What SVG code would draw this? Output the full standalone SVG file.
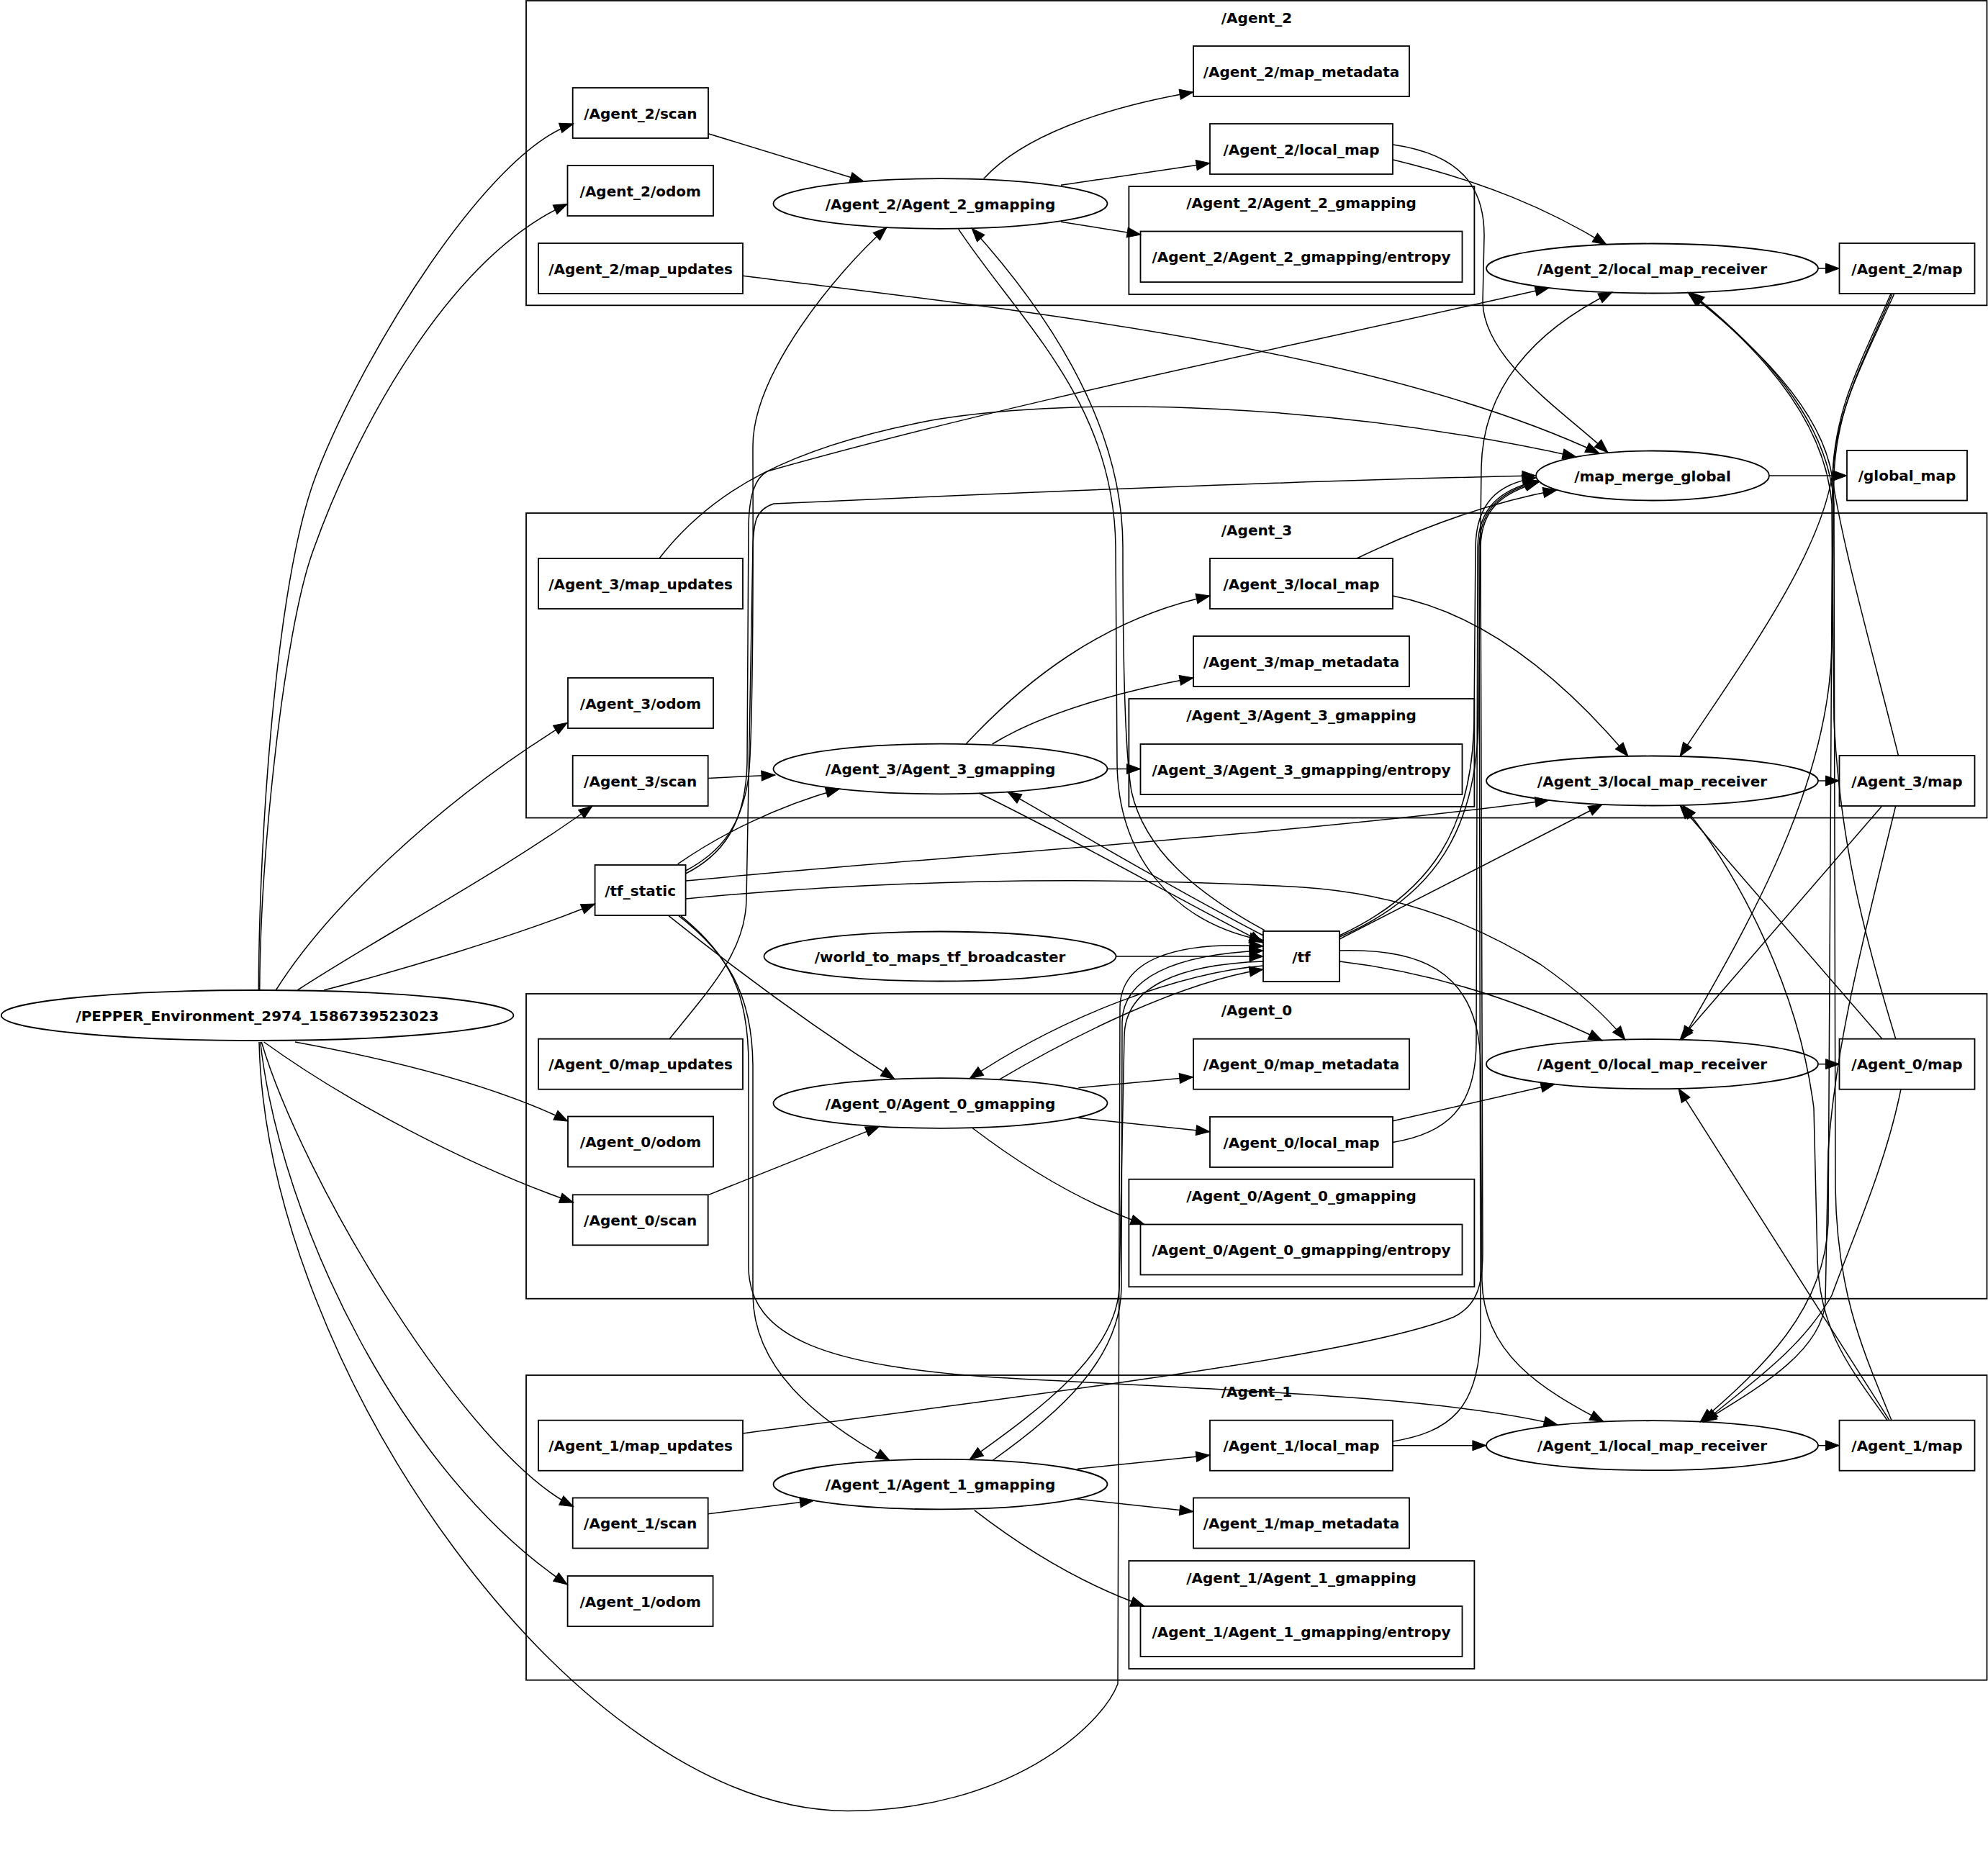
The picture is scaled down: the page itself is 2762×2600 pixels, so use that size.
<svg xmlns="http://www.w3.org/2000/svg" width="2762" height="2600" viewBox="0 0 2762 2600">
<defs>
<style>
.c{fill:none;stroke:#000;stroke-width:1.8}
.n{fill:none;stroke:#000;stroke-width:1.8}
.t{font-family:"DejaVu Sans",sans-serif;font-weight:bold;font-size:20px;text-anchor:middle;fill:#000}
#edges path{fill:none;stroke:#000;stroke-width:1.5;marker-end:url(#a)}
</style>
<marker id="a" viewBox="0 0 20 14" markerWidth="20" markerHeight="14" refX="19" refY="7" orient="auto" markerUnits="userSpaceOnUse" overflow="visible">
<path d="M0,0 L19,7 L0,14 z" fill="#000" stroke="#000" stroke-width="1"/>
</marker>
</defs>
<rect width="2762" height="2600" fill="#fff"/>

<g id="clusters">
<g id="cluster_agent2"><rect class="c" x="731" y="1" width="2029.5" height="423.3"/><text class="t" x="1746" y="31.5">/Agent_2</text></g>
<g id="cluster_agent2_gm"><rect class="c" x="1568.4" y="259" width="480" height="150"/><text class="t" x="1808" y="288.5">/Agent_2/Agent_2_gmapping</text></g>
<g id="cluster_agent3"><rect class="c" x="731" y="713" width="2029.5" height="423.5"/><text class="t" x="1746" y="743.5">/Agent_3</text></g>
<g id="cluster_agent3_gm"><rect class="c" x="1568.4" y="971" width="480" height="150"/><text class="t" x="1808" y="1000.5">/Agent_3/Agent_3_gmapping</text></g>
<g id="cluster_agent0"><rect class="c" x="731" y="1381" width="2029.5" height="423.7"/><text class="t" x="1746" y="1411">/Agent_0</text></g>
<g id="cluster_agent0_gm"><rect class="c" x="1568.4" y="1638.7" width="480" height="149.5"/><text class="t" x="1808" y="1669">/Agent_0/Agent_0_gmapping</text></g>
<g id="cluster_agent1"><rect class="c" x="731" y="1911" width="2029.5" height="423.7"/><text class="t" x="1746" y="1940.5">/Agent_1</text></g>
<g id="cluster_agent1_gm"><rect class="c" x="1568.4" y="2169" width="480" height="150"/><text class="t" x="1808" y="2199.5">/Agent_1/Agent_1_gmapping</text></g>
</g>

<g id="edges">
<path d="M359.3,1376 C360,1150 385,800 440,658 C506,488 678,210 796.7,172"/>
<path d="M360.7,1376 C362,1180 395,880 433.3,770 C491,605 620,360 788.3,283.4"/>
<path d="M383.3,1376 C450,1270 600,1120 788.3,1004.3"/>
<path d="M413.3,1376 C530,1300 700,1210 823,1120"/>
<path d="M450,1376 C550,1350 720,1300 826.6,1256"/>
<path d="M410,1448 C530,1470 680,1505 789,1558"/>
<path d="M366.7,1448 C480,1530 650,1620 796.7,1671"/>
<path d="M363.3,1448 C420,1640 646.7,2018.6 796.7,2093.6"/>
<path d="M361.7,1448 C390,1700 560,2050 788.3,2202"/>
<path d="M360,1448 C370,1900 800,2516 1178,2516.5 C1400,2516 1530,2400 1553,2340 L1556,1400 C1557,1335 1630,1307 1755,1315"/>

<path d="M984,185.7 L1200,252"/>
<path d="M1366.7,248.3 C1420,190 1530,150 1658,128"/>
<path d="M1474,257.3 L1681,226.7"/>
<path d="M1474,308.3 L1585,326"/>
<path d="M1331.6,318.3 C1420,450 1548,560 1550,760 L1552,1060 C1553,1180 1620,1280 1755,1307"/>
<path d="M1756.7,1292.7 C1660,1240 1590,1180 1572,1100 C1562,1040 1560,900 1560,760 C1560,600 1470,450 1350,317"/>
<path d="M952.6,1210 C1000,1185 1030,1150 1040,1080 C1048,1000 1046,700 1046,620 C1046,520 1160,380 1232,316"/>
<path d="M1935.5,222 C2063,253 2150,290 2232,340"/>
<path d="M1935.5,201 C2030,215 2063,260 2062,330 L2060,420 C2062,500 2170,570 2234,629"/>
<path d="M1032,383.3 C1400,430 1900,480 2222,630"/>
<path d="M2526,373 L2555.5,373"/>
<path d="M1861,1302 C1995,1245 2052,1150 2054,1000 L2058,650 C2060,540 2130,460 2240,406"/>
<path d="M952.6,1214 C1000,1190 1036,1150 1038,1060 L1040,730 C1041,690 1048,665 1066,655 C1400,560 1800,480 2152,400"/>

<path d="M983.5,1081.4 L1077,1077"/>
<path d="M1378.6,1034 C1450,990 1560,960 1658,942"/>
<path d="M1342,1034 C1420,950 1530,860 1681,828"/>
<path d="M1538.5,1068.5 L1584.5,1068.5"/>
<path d="M1360.4,1102.3 C1480,1160 1620,1240 1755,1310"/>
<path d="M1755,1300 C1640,1240 1520,1170 1400,1100.5"/>
<path d="M941.7,1200.7 C1000,1160 1080,1120 1166.5,1096.2"/>
<path d="M1935,828 C2050,850 2160,930 2262,1051"/>
<path d="M1885,776 C1960,740 2060,700 2163,681"/>
<path d="M916,776 C990,680 1100,620 1300,583 C1500,550 1850,560 2190,634.9"/>
<path d="M2526,1085 L2555.5,1085"/>
<path d="M1861,1305 L2226,1118"/>
<path d="M953,1224 C1300,1190 1800,1160 2152,1112"/>

<path d="M983.8,1660.6 L1221.7,1565.4"/>
<path d="M1498.3,1511.7 L1657.7,1496.7"/>
<path d="M1496.7,1553.3 L1680.8,1572.7"/>
<path d="M1351,1567.5 C1420,1620 1500,1670 1590,1701.5"/>
<path d="M1388,1500.4 C1490,1440 1640,1365 1755,1347"/>
<path d="M1755,1342 C1640,1352 1480,1410 1347,1499"/>
<path d="M929,1272.7 C1050,1370 1150,1440 1243,1499.5"/>
<path d="M1935,1557.8 L2160,1506.6"/>
<path d="M1935,1587.5 C2010,1575 2050,1540 2051,1450 L2053,760 C2054,705 2085,680 2137,668"/>
<path d="M930,1443.7 C990,1370 1036,1320 1037,1250 L1046,760 C1047,725 1050,708 1075,700 C1400,685 1800,668 2134,661"/>
<path d="M2526,1478.7 L2555.5,1478.7"/>
<path d="M1861,1336 C1980,1350 2100,1385 2226,1446"/>
<path d="M953,1249 C1200,1225 1500,1215 1810,1233 C1950,1242 2060,1290 2140,1340 C2190,1375 2230,1410 2258,1445"/>

<path d="M983.8,2103.8 L1130.5,2085.3"/>
<path d="M1494,2082.8 L1657.9,2100.6"/>
<path d="M1497,2041.3 L1680.8,2022.2"/>
<path d="M1353.7,2098.7 C1420,2150 1500,2200 1590,2232"/>
<path d="M1379,2029.5 C1470,1965 1556,1890 1558,1790 L1559,1420 C1560,1360 1630,1326 1755,1321"/>
<path d="M1755,1336 C1640,1340 1563,1370 1562,1440 L1555,1790 C1550,1880 1450,1955 1347,2028.3"/>
<path d="M943,1272.7 C1010,1325 1045,1380 1046,1480 L1046,1800 C1047,1900 1130,1970 1236,2029.4"/>
<path d="M1935,2008.7 L2064.9,2008.7"/>
<path d="M1935,2003 C2012,1990 2056,1960 2057,1850 L2055,760 C2056,705 2088,682 2137,669"/>
<path d="M1031.6,1992 C1500,1930 1900,1880 2020,1830 C2050,1815 2060,1790 2060,1740 L2057,760 C2058,705 2090,684 2138,670"/>
<path d="M2526,2008.7 L2555.5,2008.7"/>
<path d="M1861,1321 C1960,1318 2056,1340 2057,1480 L2059,1780 C2061,1880 2140,1930 2228,1975.7"/>
<path d="M946,1272.7 C1015,1330 1040,1380 1040,1480 L1040,1760 C1040,1860 1150,1900 1400,1915 C1700,1932 2000,1940 2164,1980"/>

<path d="M1550.5,1329 L1755,1329"/>
<path d="M1861,1300 C1990,1240 2046,1150 2048,1000 L2050,760 C2051,700 2080,672 2134,664"/>
<path d="M2458,661 L2566,661"/>

<path d="M2631.7,408.3 C2600,480 2555,560 2548,640 C2540,760 2420,920 2334,1051"/>
<path d="M2629,408.3 C2595,490 2552,560 2548,660 L2545,900 C2540,1100 2420,1300 2337,1445"/>
<path d="M2627,408.3 C2592,490 2550,560 2546,660 L2540,1700 C2535,1820 2450,1900 2362,1976"/>
<path d="M2637.5,1050 C2600,900 2560,760 2545,660 C2530,570 2440,480 2345,406.5"/>
<path d="M2615,1119.8 L2334,1445"/>
<path d="M2633.8,1119.8 C2590,1300 2550,1450 2540,1600 L2536,1810 C2530,1880 2440,1930 2366,1976"/>
<path d="M2615,1443.7 L2334,1119"/>
<path d="M2633.8,1443.7 C2590,1300 2556,1170 2548,1000 L2545,700 C2535,580 2440,480 2347,406.5"/>
<path d="M2641,1513.3 C2620,1620 2570,1730 2545,1800 C2500,1880 2420,1930 2368,1976"/>
<path d="M2625,1973.7 L2332,1512.7"/>
<path d="M2622,1973.7 C2570,1900 2528,1850 2525,1750 L2520,1540 C2500,1380 2420,1220 2338,1119"/>
<path d="M2628,1973.7 C2590,1880 2552,1800 2550,1650 L2548,700 C2540,580 2440,480 2349,406.5"/>
</g>

<g id="nodes">
<g id="n_pepper"><ellipse class="n" cx="357.6" cy="1411" rx="355.8" ry="35"/><text class="t" x="357.6" y="1418.5">/PEPPER_Environment_2974_1586739523023</text></g>

<g id="n_a2_scan"><rect class="n" x="795.7" y="122" width="188.3" height="70"/><text class="t" x="889.85" y="164.5">/Agent_2/scan</text></g>
<g id="n_a2_odom"><rect class="n" x="788.5" y="230" width="202.5" height="70"/><text class="t" x="889.75" y="272.5">/Agent_2/odom</text></g>
<g id="n_a2_map_updates"><rect class="n" x="748" y="338" width="284" height="70"/><text class="t" x="890" y="380.5">/Agent_2/map_updates</text></g>
<g id="n_a2_gmapping"><ellipse class="n" cx="1306.5" cy="283" rx="232" ry="34.8"/><text class="t" x="1306.5" y="290.5">/Agent_2/Agent_2_gmapping</text></g>
<g id="n_a2_map_metadata"><rect class="n" x="1658" y="64" width="300" height="70"/><text class="t" x="1808" y="106.5">/Agent_2/map_metadata</text></g>
<g id="n_a2_local_map"><rect class="n" x="1681" y="172" width="254" height="70"/><text class="t" x="1808" y="214.5">/Agent_2/local_map</text></g>
<g id="n_a2_entropy"><rect class="n" x="1584.5" y="321.5" width="447" height="70.5"/><text class="t" x="1808" y="364.3">/Agent_2/Agent_2_gmapping/entropy</text></g>
<g id="n_a2_receiver"><ellipse class="n" cx="2295.5" cy="373" rx="230.5" ry="34.5"/><text class="t" x="2295.5" y="380.5">/Agent_2/local_map_receiver</text></g>
<g id="n_a2_map"><rect class="n" x="2555.5" y="338" width="188" height="70"/><text class="t" x="2649.5" y="380.5">/Agent_2/map</text></g>

<g id="n_merge"><ellipse class="n" cx="2296" cy="661" rx="162" ry="34.5"/><text class="t" x="2296" y="668.5">/map_merge_global</text></g>
<g id="n_global_map"><rect class="n" x="2566" y="626" width="167" height="69.5"/><text class="t" x="2649.5" y="668.3">/global_map</text></g>

<g id="n_a3_map_updates"><rect class="n" x="748" y="776" width="284" height="70"/><text class="t" x="890" y="818.5">/Agent_3/map_updates</text></g>
<g id="n_a3_odom"><rect class="n" x="789" y="942" width="202" height="70"/><text class="t" x="890" y="984.5">/Agent_3/odom</text></g>
<g id="n_a3_scan"><rect class="n" x="795.7" y="1050" width="188" height="70"/><text class="t" x="889.7" y="1092.5">/Agent_3/scan</text></g>
<g id="n_a3_gmapping"><ellipse class="n" cx="1306.5" cy="1068.5" rx="232" ry="34.8"/><text class="t" x="1306.5" y="1076">/Agent_3/Agent_3_gmapping</text></g>
<g id="n_a3_local_map"><rect class="n" x="1681" y="776" width="254" height="70"/><text class="t" x="1808" y="818.5">/Agent_3/local_map</text></g>
<g id="n_a3_map_metadata"><rect class="n" x="1658" y="884" width="300" height="70"/><text class="t" x="1808" y="926.5">/Agent_3/map_metadata</text></g>
<g id="n_a3_entropy"><rect class="n" x="1584.5" y="1034" width="447" height="70"/><text class="t" x="1808" y="1076.5">/Agent_3/Agent_3_gmapping/entropy</text></g>
<g id="n_a3_receiver"><ellipse class="n" cx="2295.5" cy="1085" rx="230.5" ry="34.5"/><text class="t" x="2295.5" y="1092.5">/Agent_3/local_map_receiver</text></g>
<g id="n_a3_map"><rect class="n" x="2555.5" y="1050" width="188" height="70"/><text class="t" x="2649.5" y="1092.5">/Agent_3/map</text></g>

<g id="n_tf_static"><rect class="n" x="826.6" y="1202" width="126" height="70"/><text class="t" x="889.6" y="1244.5">/tf_static</text></g>
<g id="n_world_to_maps"><ellipse class="n" cx="1306" cy="1329" rx="244.5" ry="34.5"/><text class="t" x="1306" y="1336.5">/world_to_maps_tf_broadcaster</text></g>
<g id="n_tf"><rect class="n" x="1755" y="1294" width="106" height="70"/><text class="t" x="1808" y="1336.5">/tf</text></g>

<g id="n_a0_map_updates"><rect class="n" x="748" y="1443.7" width="284" height="70"/><text class="t" x="890" y="1486.2">/Agent_0/map_updates</text></g>
<g id="n_a0_odom"><rect class="n" x="789" y="1551.5" width="202" height="70"/><text class="t" x="890" y="1594">/Agent_0/odom</text></g>
<g id="n_a0_scan"><rect class="n" x="795.7" y="1660.3" width="188" height="70"/><text class="t" x="889.7" y="1702.8">/Agent_0/scan</text></g>
<g id="n_a0_gmapping"><ellipse class="n" cx="1306.5" cy="1533" rx="232" ry="34.8"/><text class="t" x="1306.5" y="1540.5">/Agent_0/Agent_0_gmapping</text></g>
<g id="n_a0_map_metadata"><rect class="n" x="1658" y="1443.7" width="300" height="70"/><text class="t" x="1808" y="1486.2">/Agent_0/map_metadata</text></g>
<g id="n_a0_local_map"><rect class="n" x="1681" y="1552" width="254" height="70"/><text class="t" x="1808" y="1594.5">/Agent_0/local_map</text></g>
<g id="n_a0_entropy"><rect class="n" x="1584.5" y="1701.5" width="447" height="70"/><text class="t" x="1808" y="1744">/Agent_0/Agent_0_gmapping/entropy</text></g>
<g id="n_a0_receiver"><ellipse class="n" cx="2295.5" cy="1478.7" rx="230.5" ry="34.5"/><text class="t" x="2295.5" y="1486.2">/Agent_0/local_map_receiver</text></g>
<g id="n_a0_map"><rect class="n" x="2555.5" y="1443.7" width="188" height="70"/><text class="t" x="2649.5" y="1486.2">/Agent_0/map</text></g>

<g id="n_a1_map_updates"><rect class="n" x="748" y="1973.7" width="284" height="70"/><text class="t" x="890" y="2016.2">/Agent_1/map_updates</text></g>
<g id="n_a1_scan"><rect class="n" x="795.7" y="2081.5" width="188" height="70"/><text class="t" x="889.7" y="2124">/Agent_1/scan</text></g>
<g id="n_a1_odom"><rect class="n" x="788.6" y="2190" width="202" height="70"/><text class="t" x="889.6" y="2232.5">/Agent_1/odom</text></g>
<g id="n_a1_gmapping"><ellipse class="n" cx="1306.5" cy="2062.6" rx="232" ry="34.8"/><text class="t" x="1306.5" y="2070.1">/Agent_1/Agent_1_gmapping</text></g>
<g id="n_a1_local_map"><rect class="n" x="1681" y="1973.7" width="254" height="70"/><text class="t" x="1808" y="2016.2">/Agent_1/local_map</text></g>
<g id="n_a1_map_metadata"><rect class="n" x="1658" y="2081.5" width="300" height="70"/><text class="t" x="1808" y="2124">/Agent_1/map_metadata</text></g>
<g id="n_a1_entropy"><rect class="n" x="1584.5" y="2232" width="447" height="70"/><text class="t" x="1808" y="2274.5">/Agent_1/Agent_1_gmapping/entropy</text></g>
<g id="n_a1_receiver"><ellipse class="n" cx="2295.5" cy="2008.7" rx="230.5" ry="34.5"/><text class="t" x="2295.5" y="2016.2">/Agent_1/local_map_receiver</text></g>
<g id="n_a1_map"><rect class="n" x="2555.5" y="1973.7" width="188" height="70"/><text class="t" x="2649.5" y="2016.2">/Agent_1/map</text></g>
</g>
</svg>
